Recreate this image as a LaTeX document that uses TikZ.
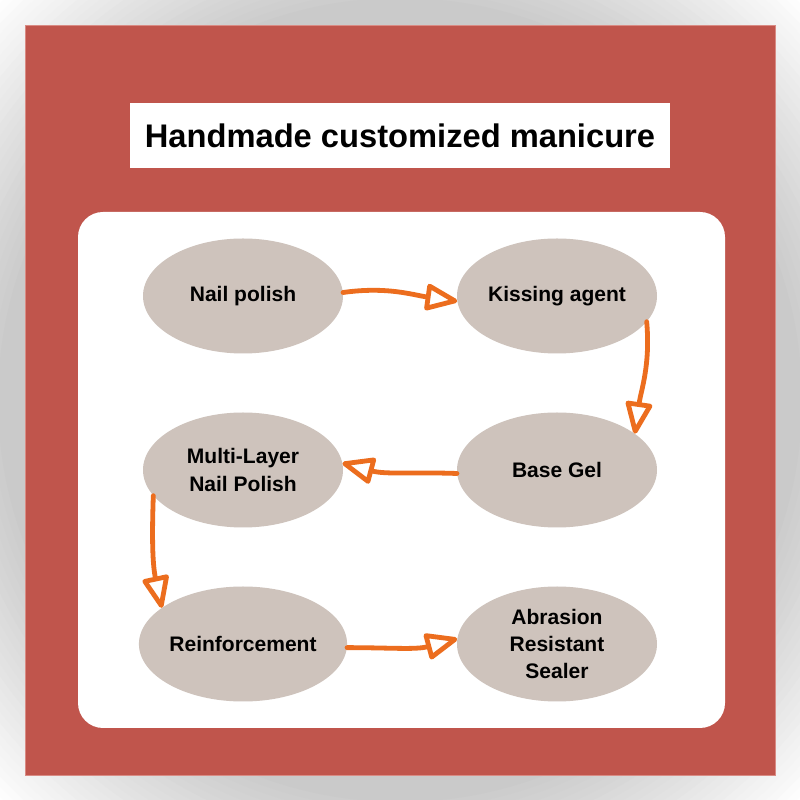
\documentclass[tikz,border=0pt]{standalone}
\usepackage{fontspec}
\setmainfont{Liberation Sans}
\usetikzlibrary{shapes.geometric,arrows.meta}
\definecolor{redbg}{HTML}{C0554C}
\definecolor{redline}{HTML}{D98B84}
\definecolor{nodefill}{HTML}{CEC3BC}
\definecolor{arrowor}{HTML}{EC6D1E}
\definecolor{bggray}{HTML}{C8C8C8}
\tikzset{
  procnode/.style={ellipse, fill=nodefill, minimum width=200bp, minimum height=115bp,
    inner sep=0pt, align=center, font=\bfseries\fontsize{21.1}{27.5}\selectfont},
  titlenode/.style={fill=white, minimum width=540bp, minimum height=65bp, inner sep=0pt,
    font=\bfseries\fontsize{32.8}{39}\selectfont},
  flowarrow/.style={draw=arrowor, line width=4.8bp, line cap=round,
    -{Triangle[open,round,length=36bp 0,width=28bp 0]}}
}
\begin{document}
\begin{tikzpicture}[x=1bp,y=1bp]
\useasboundingbox (0,0) rectangle (800,800);
\begin{scope}
\clip (0,0) rectangle (800,800);
\fill[white] (0,0) rectangle (800,800);
\foreach \i in {0,...,24}{
  \pgfmathsetmacro{\rr}{570-7*\i}
  \pgfmathsetmacro{\pp}{4*\i}
  \fill[bggray!\pp!white] (400,400) circle (\rr);
}
\end{scope}
\fill[redbg, draw=redline, line width=0.8bp] (25,25) rectangle (775,775);
\fill[white, rounded corners=25bp] (78,72) rectangle (725,588);
\node[titlenode] (title) at (400,664.5) {Handmade customized manicure};
\node[procnode] (np) at (243,504) {Nail polish};
\node[procnode] (ka) at (557,504) {Kissing agent};
\node[procnode] (bg) at (557,330) {Base Gel};
\node[procnode] (ml) at (243,330) {Multi-Layer\\Nail Polish};
\node[procnode] (rf) at (243,156) {Reinforcement};
\node[procnode] (ar) at (557,156) {Abrasion\\Resistant\\Sealer};
\draw[flowarrow] (np.2) to[out=8,in=172] (ka.183);
\draw[flowarrow] (ka.-16) to[out=-85,in=82] (bg.25);
\draw[flowarrow] (bg.182) to[out=178,in=-15] (ml.4);
\draw[flowarrow] (ml.196) to[out=-92,in=102] (rf.156);
\draw[flowarrow] (rf.-2) to[out=0,in=195] (ar.177);
\end{tikzpicture}
\end{document}
